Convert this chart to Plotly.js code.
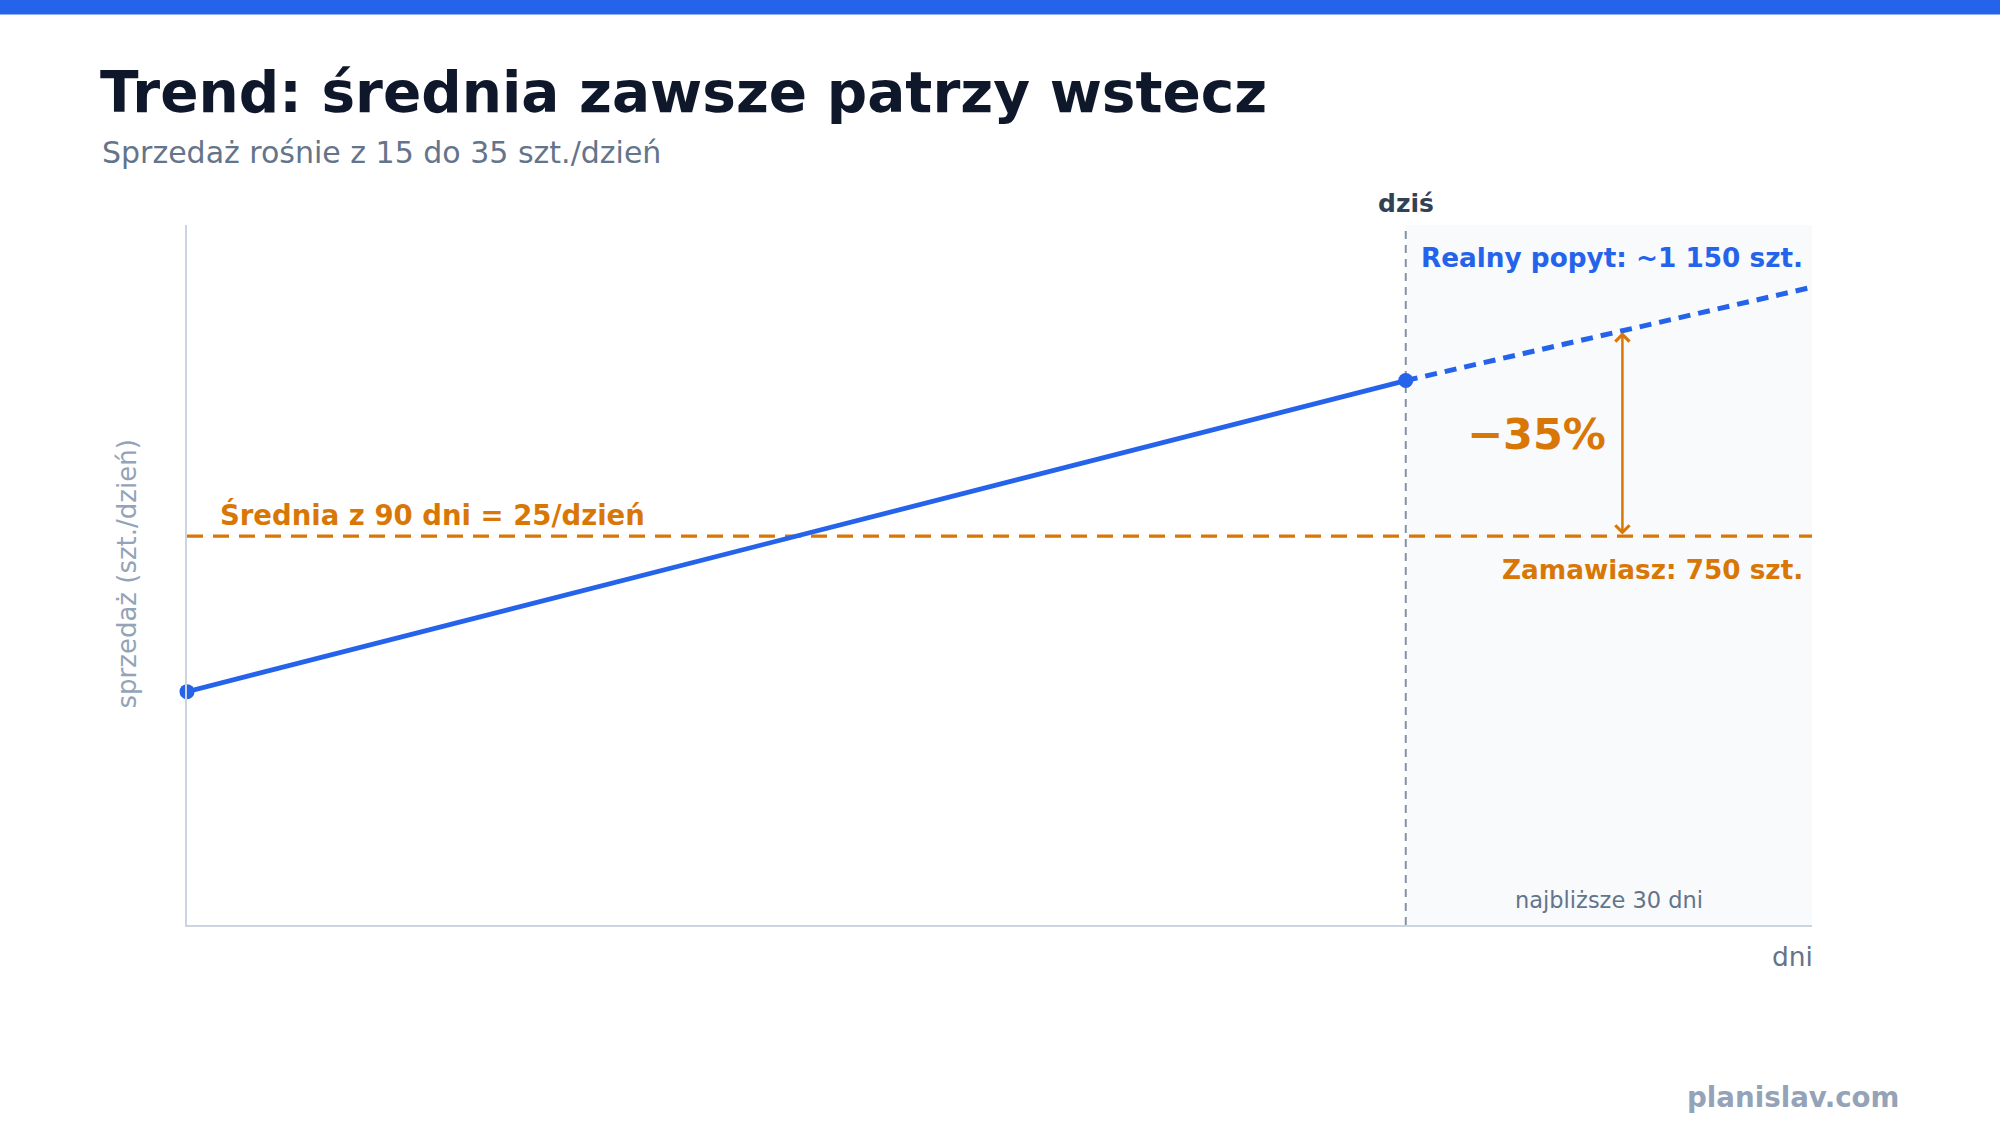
<!DOCTYPE html>
<html>
<head>
<meta charset="utf-8">
<script src="https://cdn.plot.ly/plotly-3.0.1.min.js"></script>
<style>
  html, body { margin: 0; padding: 0; background: #ffffff; }
  #chart { width: 2000px; height: 1125px; }
</style>
</head>
<body>
<div id="chart"></div>
<script>
// ---- data ----
const histDays = [0, 90];          // day index: start of window, today
const histSales = [15, 35];        // szt./dzień
const fcDays = [90, 120];          // today -> next 30 days
const fcSales = [35, 41];          // extrapolated trend
const avgValue = 25;               // 90-day average
const todayDay = 90;
const horizonEnd = 120;
const arrowDay = 106;
const arrowTop = 38.1;             // forecast value at the arrow

const titleText = 'Trend: średnia zawsze patrzy wstecz';
const subtitleText = 'Sprzedaż rośnie z 15 do 35 szt./dzień';
const yTitle = 'sprzedaż (szt./dzień)';
const xTitle = 'dni';
const todayLabel = 'dziś';
const demandLabel = 'Realny popyt: ~1 150 szt.';
const orderLabel = 'Zamawiasz: 750 szt.';
const avgLabel = 'Średnia z 90 dni = 25/dzień';
const gapLabel = '−35%';
const horizonLabel = 'najbliższe 30 dni';
const brand = 'planislav.com';

const BLUE = '#2563EB';
const ORANGE = '#D97706';
const FONT = 'DejaVu Sans, Verdana, sans-serif';

const traces = [
  {
    x: [0, horizonEnd], y: [avgValue, avgValue],
    mode: 'lines',
    line: { color: ORANGE, width: 3.2, dash: '16px,10px' },
    hoverinfo: 'skip', showlegend: false, cliponaxis: false
  },
  {
    x: fcDays, y: fcSales,
    mode: 'lines',
    line: { color: BLUE, width: 5, dash: '12px,8px' },
    hoverinfo: 'skip', showlegend: false, cliponaxis: false
  },
  {
    x: histDays, y: histSales,
    mode: 'lines+markers',
    line: { color: BLUE, width: 4.8 },
    marker: { color: BLUE, size: 15 },
    hoverinfo: 'skip', showlegend: false, cliponaxis: false
  }
];

const layout = {
  width: 2000, height: 1125,
  margin: { l: 187, r: 188, t: 225, b: 200, pad: 0 },
  paper_bgcolor: '#ffffff',
  plot_bgcolor: '#ffffff',
  font: { family: FONT },
  showlegend: false,
  hovermode: false,
  title: {
    text: '<b>' + titleText + '</b>',
    x: 100 / 2000, xref: 'container', xanchor: 'left',
    y: 1 - 92.5 / 1125, yref: 'container', yanchor: 'middle',
    font: { family: FONT, size: 56.5, color: '#0F172A' }
  },
  xaxis: {
    range: [0, horizonEnd], showgrid: false, zeroline: false,
    showticklabels: false, ticks: '', showline: true,
    linecolor: '#CBD5E1', linewidth: 2, fixedrange: true
  },
  yaxis: {
    range: [0, 45], showgrid: false, zeroline: false,
    showticklabels: false, ticks: '', showline: true,
    linecolor: '#CBD5E1', linewidth: 2, fixedrange: true
  },
  shapes: [
    { type: 'rect', xref: 'paper', yref: 'paper', x0: -0.2, x1: 1.2,
      y0: (925 - 14.5) / 700, y1: 1.45, fillcolor: BLUE, line: { width: 0 }, layer: 'above' },
    { type: 'rect', xref: 'x', yref: 'paper', x0: todayDay, x1: horizonEnd, y0: 0, y1: 1,
      fillcolor: '#F8FAFC', line: { width: 0 }, layer: 'below' },
    { type: 'line', xref: 'x', yref: 'paper', x0: todayDay, x1: todayDay, y0: 0, y1: 1,
      line: { color: '#8492A6', width: 2, dash: '8px,6px' }, layer: 'below' }
  ],
  annotations: [
    { text: subtitleText, xref: 'paper', yref: 'paper',
      x: (101 - 187.5) / 1624.5, xanchor: 'left', y: (925 - 152) / 700, yanchor: 'middle',
      showarrow: false, font: { family: FONT, size: 30, color: '#64748B' } },
    { text: '<b>' + todayLabel + '</b>', xref: 'x', yref: 'paper',
      x: todayDay, xanchor: 'center', y: (925 - 204) / 700, yanchor: 'middle',
      showarrow: false, font: { family: FONT, size: 25, color: '#334155' } },
    { text: '<b>' + demandLabel + '</b>', xref: 'x', yref: 'paper',
      x: horizonEnd, xanchor: 'right', xshift: -7, y: (925 - 258) / 700, yanchor: 'middle',
      showarrow: false, font: { family: FONT, size: 26.3, color: BLUE } },
    { text: '<b>' + orderLabel + '</b>', xref: 'x', yref: 'y',
      x: horizonEnd, xanchor: 'right', xshift: -7, y: avgValue, yshift: -34, yanchor: 'middle',
      showarrow: false, font: { family: FONT, size: 26.3, color: ORANGE } },
    { text: '<b>' + avgLabel + '</b>', xref: 'x', yref: 'y',
      x: 0, xanchor: 'left', xshift: 31, y: avgValue, yshift: 22, yanchor: 'middle',
      showarrow: false, font: { family: FONT, size: 27.5, color: ORANGE } },
    { text: '<b>' + gapLabel + '</b>', xref: 'x', yref: 'y',
      x: arrowDay, xanchor: 'right', xshift: -14, y: (avgValue + arrowTop) / 2, yanchor: 'middle',
      showarrow: false, font: { family: FONT, size: 43, color: ORANGE } },
    { text: '', xref: 'x', yref: 'y', x: arrowDay, y: arrowTop,
      axref: 'x', ayref: 'y', ax: arrowDay, ay: avgValue,
      showarrow: true, arrowside: 'end+start', arrowhead: 4, startarrowhead: 4,
      arrowsize: 1.1, startarrowsize: 1.1, arrowwidth: 2.5, arrowcolor: ORANGE,
      standoff: 0, startstandoff: 0 },
    { text: horizonLabel, xref: 'x', yref: 'paper',
      x: (todayDay + horizonEnd) / 2, xanchor: 'center', y: 25 / 700, yanchor: 'middle',
      showarrow: false, font: { family: FONT, size: 22.5, color: '#64748B' } },
    { text: xTitle, xref: 'paper', yref: 'paper',
      x: 1, xanchor: 'right', xshift: 3, y: (925 - 956) / 700, yanchor: 'middle',
      showarrow: false, font: { family: FONT, size: 26.5, color: '#64748B' } },
    { text: yTitle, xref: 'paper', yref: 'paper', textangle: -90,
      x: (128 - 187.5) / 1624.5, xanchor: 'center', y: (925 - 574) / 700, yanchor: 'middle',
      showarrow: false, font: { family: FONT, size: 26, color: '#94A3B8' } },
    { text: '<b>' + brand + '</b>', xref: 'paper', yref: 'paper',
      x: (1901 - 187.5) / 1624.5, xanchor: 'right', y: (925 - 1097) / 700, yanchor: 'middle',
      showarrow: false, font: { family: FONT, size: 27.7, color: '#94A3B8' } }
  ]
};

Plotly.newPlot('chart', traces, layout, { displayModeBar: false, staticPlot: true });
</script>
</body>
</html>
